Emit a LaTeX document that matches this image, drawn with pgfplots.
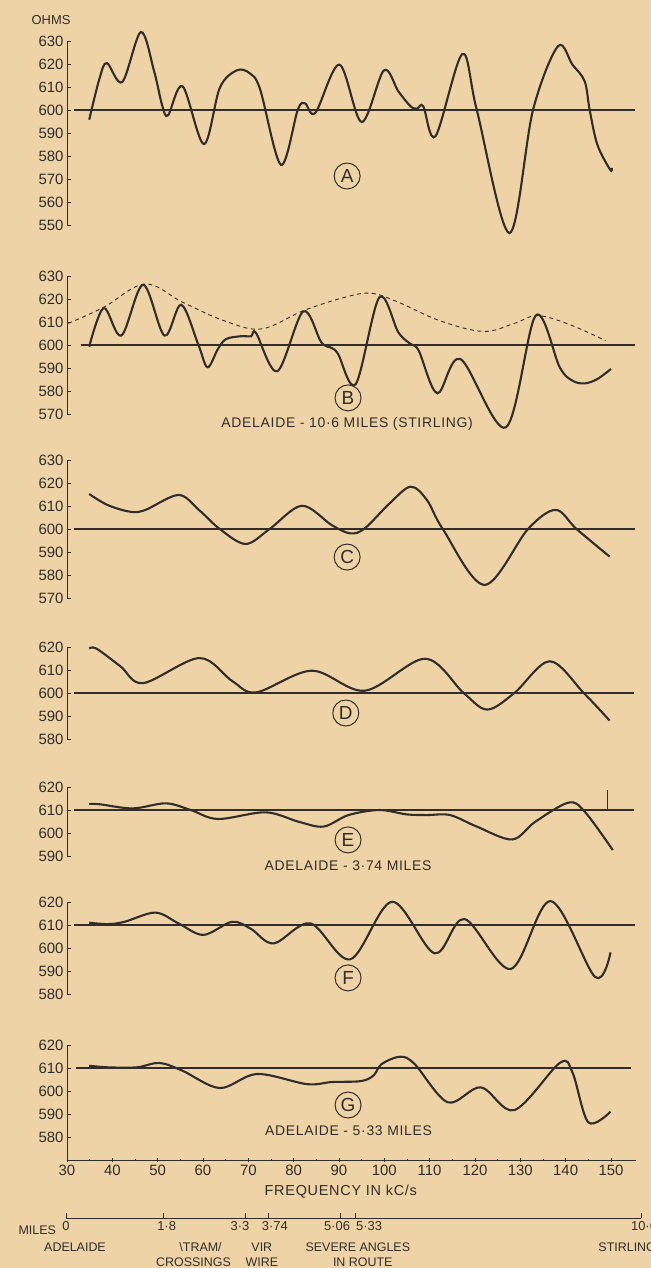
\documentclass[border=0pt]{standalone}
\usepackage{pgfplots}
\pgfplotsset{compat=1.18}
\usepackage{fontspec}
\setmainfont{Liberation Sans}
\newfontfamily\capfont[LetterSpace=5]{Liberation Sans}
\definecolor{paper}{RGB}{238,211,166}
\definecolor{ink}{RGB}{50,45,40}
\newcommand\sh[2]{\makebox[0pt]{\hspace*{#1}#2}}
\pgfplotsset{
  panel/.style={
    x=4.533bp, y=2.3bp, xmin=30, xmax=155.5,
    scale only axis, clip=false,
    axis y line=left,
    axis line style={-, ink, line width=0.9bp},
    ytick distance=10,
    tick align=inside, major tick length=4bp,
    tick style={ink, line width=0.8bp},
    yticklabel style={font=\fontsize{15}{15}\selectfont, text=ink},
    /pgf/number format/assume math mode=true,
    anchor=south west,
  },
  refl/.style={ink, line width=1.1bp},
  curve/.style={ink, line width=2.1bp, smooth, tension=0.55},
}
\tikzset{
  lab/.style={circle, draw=ink, line width=1bp, minimum size=26bp, inner sep=0pt, font=\fontsize{19}{19}\selectfont, text=ink},
  captxt/.style={font=\capfont\fontsize{14}{14}\selectfont, text=ink},
  mtxt/.style={font=\fontsize{12.5}{12.5}\selectfont, text=ink},
}
\begin{document}
\begin{tikzpicture}
\useasboundingbox (0,0) rectangle (651bp,-1268bp);
\fill[paper] (0,0) rectangle (651bp,-1268bp);
\clip (0,0) rectangle (651bp,-1268bp);
\node[font=\fontsize{13}{13}\selectfont, text=ink] at (51bp,-20bp) {OHMS};

% Panel A
\begin{axis}[panel, axis x line=none, at={(67bp,-225bp)}, ymin=550, ymax=630]
\addplot[refl] coordinates {(31.5,600) (155.3,600)};
\addplot[curve] coordinates {(34.9,595.8) (37.2,613.9) (38.8,620.4) (42.2,612.2) (46.3,633.9) (49.2,617) (51.0,602) (52.3,597.7) (55.5,610.3) (60.2,585.2) (63.7,609.6) (67.4,617.2) (70.3,616) (72.6,609) (77.2,576.2) (80.9,600) (82.5,602.9) (84.8,598.8) (90.1,619.7) (95.0,594.8) (99.9,617.2) (103.1,608.1) (105.8,601.6) (107.2,600.6) (108.6,601.6) (111.3,588.6) (117.2,624.3) (120.4,600) (127.6,546.5) (132.8,600) (138.3,627.7) (141.5,619.7) (144.2,612.5) (145.3,600) (147.0,584.9) (149.8,574.1) (150.2,574.8)};
\node[lab] at (axis cs:91.8,571.3) {A};
\end{axis}

% Panel B
\begin{axis}[panel, axis x line=none, at={(67bp,-414bp)}, ymin=570, ymax=630]
\addplot[refl] coordinates {(33,600) (155.3,600)};
\addplot[ink, line width=0.9bp, dash pattern=on 4bp off 3.5bp, smooth, tension=0.6] coordinates {(30.3,609.4) (38.1,616.4) (47.2,626.5) (55.5,618.6) (64.6,610.6) (72.9,607.0) (82.1,614.9) (91.2,620.7) (97.1,622.5) (103.1,618.6) (112.2,610.6) (121.8,605.9) (128.7,609.4) (133.7,612.8) (140.6,609.1) (148.8,601.9)};
\addplot[curve] coordinates {(34.9,599.3) (38.1,616.1) (42.0,604.1) (46.8,626.2) (51.5,604.1) (55.2,617.5) (59.0,600) (61.0,590.3) (63.3,598.3) (65.1,602.6) (68.3,603.8) (70.6,603.8) (71.7,605.2) (76.4,588.6) (82.1,614.6) (86.1,601.2) (88.4,598.7) (89.8,596.1) (93.7,583.0) (98.9,620.7) (103.1,605.5) (105.8,600.4) (107.6,597.5) (111.7,579.0) (116.8,593.9) (126.8,564.2) (133.4,612.8) (138.7,590.3) (141.5,584.5) (144.2,583.3) (147.0,585.2) (150.0,589.6)};
\node[lab] at (axis cs:92,577) {B};
\node[captxt] at (axis cs:91.8,565.7) {ADELAIDE - 10·6 MILES (STIRLING)};
\end{axis}

% Panel C
\begin{axis}[panel, axis x line=none, at={(67bp,-598bp)}, ymin=570, ymax=630]
\addplot[refl] coordinates {(31.5,600) (155.3,600)};
\addplot[curve] coordinates {(34.9,615.2) (39.0,610.4) (44.0,607.5) (47.3,608.3) (54.6,614.8) (59.1,608.3) (63.7,600) (69.4,593.5) (74.7,600) (81.8,610.1) (88.4,601.7) (92.5,598.1) (95.7,600.3) (101.2,611.2) (105.8,618.4) (109.4,612.6) (112.9,600) (122.1,575.7) (131.7,600) (137.8,608.3) (142.4,600) (149.7,588.0)};
\node[lab] at (axis cs:91.8,587.8) {C};
\end{axis}

% Panel D
\begin{axis}[panel, axis x line=none, at={(67bp,-739bp)}, ymin=580, ymax=620]
\addplot[refl] coordinates {(31.5,600) (155,600)};
\addplot[curve] coordinates {(34.9,619.3) (36.5,619.3) (41.8,611.6) (46.8,604.3) (59.2,615.2) (66.5,605.1) (71.8,600.3) (84.0,609.7) (95.7,601.0) (109.0,614.9) (117.5,600) (122.7,592.8) (128.7,600) (136.5,613.8) (144.0,600) (149.7,588.0)};
\node[lab] at (axis cs:91.5,591.3) {D};
\end{axis}

% Panel E
\begin{axis}[panel, axis x line=none, at={(67bp,-856bp)}, ymin=590, ymax=620]
\addplot[refl] coordinates {(31.5,610) (155,610)};
\addplot[ink, line width=0.8bp] coordinates {(149.3,610) (149.3,618.7)};
\addplot[curve] coordinates {(34.9,612.6) (37.2,612.5) (44.5,610.7) (51.8,612.9) (57.3,610) (63.3,606.1) (73.8,609.0) (81.1,604.9) (86.6,602.8) (92.1,607.8) (98.9,610.0) (104.9,608.1) (109.4,607.8) (114.5,607.8) (120.4,602.8) (128.2,597.2) (133.3,604.9) (140.6,613.2) (144.2,609.3) (150.4,592.6)};
\node[lab] at (axis cs:92,597) {E};
\node[captxt] at (axis cs:92,585.7) {ADELAIDE - 3·74 MILES};
\end{axis}

% Panel F
\begin{axis}[panel, axis x line=none, at={(67bp,-994bp)}, ymin=580, ymax=620]
\addplot[refl] coordinates {(31.5,610) (155.3,610)};
\addplot[curve] coordinates {(34.9,611.0) (39.0,610.4) (42.7,611.4) (49.5,615.4) (54.6,610.7) (60.1,605.7) (66.4,611.4) (70.6,608.3) (75.6,602.0) (83.7,610.7) (92.5,595.1) (101.7,620.1) (111.1,597.7) (117.7,612.6) (127.9,590.9) (136.7,620.4) (146.5,587.4) (149.9,598.1)};
\node[lab] at (axis cs:92,587) {F};
\end{axis}

% Panel G
\begin{axis}[panel, at={(67bp,-1160bp)}, ymin=570, ymax=620,
  ytick={580,590,...,620},
  axis x line=bottom, xtick={30,40,...,150}, minor x tick num=1,
  x axis line style={-}, y axis line style={-},
  minor tick length=2.5bp,
  xticklabel style={font=\fontsize{15}{15}\selectfont, text=ink}]
\addplot[refl] coordinates {(32,610) (154.5,610)};
\addplot[curve] coordinates {(34.9,611.0) (39.0,610.3) (45.4,610.3) (50.4,612.2) (55.5,608.8) (63.7,601.3) (71.9,607.4) (82.9,603.0) (88.4,603.9) (94.8,604.3) (97.6,606.7) (99.4,611.7) (103.5,614.9) (106.7,611.7) (114.0,595.1) (121.3,601.6) (128.7,591.7) (138.7,612.2) (141.5,608.1) (145.0,586.4) (149.9,591.0)};
\node[lab] at (axis cs:92,593.9) {G};
\node[captxt] at (axis cs:92.1,582.6) {ADELAIDE - 5·33 MILES};
\node[font=\capfont\fontsize{14.5}{14.5}\selectfont, text=ink] at (axis cs:90.4,556.1) {FREQUENCY IN kC/s};
\end{axis}

% Miles scale
\begin{axis}[at={(66bp,-1218bp)}, anchor=south west, scale only axis,
  x=54.25bp, y=1bp, xmin=0, xmax=10.6, ymin=0, ymax=1, clip=false,
  axis x line=bottom, axis y line=none,
  axis line style={-, ink, line width=0.9bp},
  x axis line style={-},
  xtick={0,1.8,3.3,3.74,5.06,5.33,10.6},
  xticklabels={0,\sh{6bp}{1·8},\sh{-10bp}{3·3},\sh{12bp}{3·74},\sh{-7bp}{5·06},\sh{28bp}{5·33},\sh{6bp}{10·6}},
  tick align=inside, major tick length=5bp,
  tick style={ink, line width=0.8bp},
  xticklabel style={font=\fontsize{13}{13}\selectfont, text=ink}]
\node[mtxt, anchor=east] at (axis cs:-0.12,-12) {MILES};
\node[mtxt] at (axis cs:0.166,-29) {ADELAIDE};
\node[mtxt] at (axis cs:2.48,-29) {\textbackslash TRAM/};
\node[mtxt] at (axis cs:3.61,-29) {VIR};
\node[mtxt] at (axis cs:5.38,-29) {SEVERE ANGLES};
\node[mtxt, anchor=west] at (axis cs:9.75,-29) {STIRLING};
\node[mtxt] at (axis cs:2.35,-44) {CROSSINGS};
\node[mtxt] at (axis cs:3.61,-44) {WIRE};
\node[mtxt] at (axis cs:5.47,-44) {IN ROUTE};
\end{axis}
\end{tikzpicture}
\end{document}
